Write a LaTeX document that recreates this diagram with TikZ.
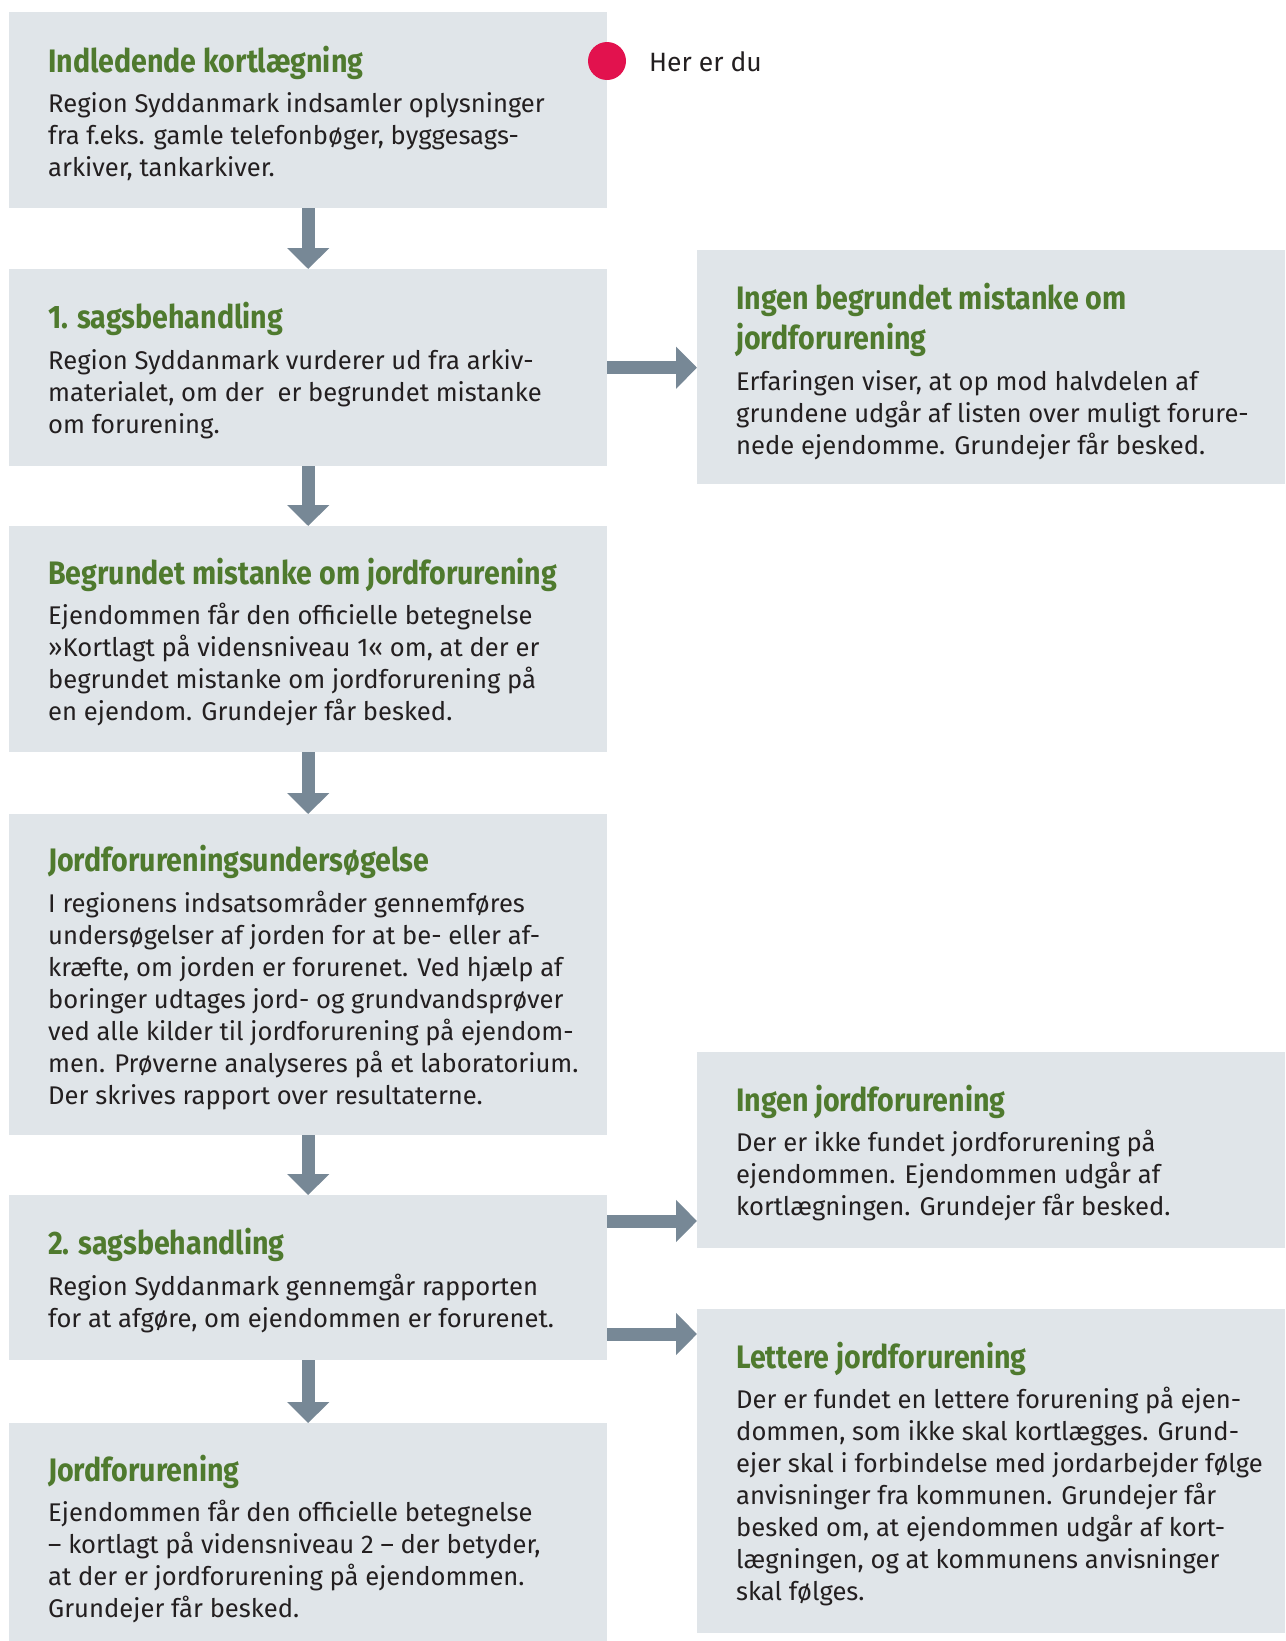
\documentclass[tikz,border=0pt]{standalone}
\usepackage{fontspec}
\setmainfont{Fira Sans}
\newfontfamily\titlefont{Fira Sans}[FakeStretch=0.88]
\usetikzlibrary{arrows.meta,calc}
\definecolor{boxfill}{HTML}{E0E5E9}
\definecolor{arrowcol}{HTML}{778896}
\definecolor{titlegreen}{HTML}{4F7A2E}
\definecolor{dotred}{HTML}{E2124E}
\definecolor{textcol}{HTML}{231F20}
\newcommand\ttl[1]{{\titlefont\bfseries\fontsize{32.5}{40}\selectfont\color{titlegreen}#1}}
\begin{document}
\begin{tikzpicture}[x=1pt,y=-1pt,
  box/.style={fill=boxfill,rectangle,inner sep=0pt,anchor=north west},
  lbox/.style={box,minimum width=598pt},
  rbox/.style={box,minimum width=588pt},
  txt/.style={anchor=west,align=left,inner sep=0pt,text=textcol,font=\fontsize{25.6}{32}\selectfont},
  arr/.style={draw=arrowcol,line width=13pt,-{Triangle[width=41pt,length=21pt]}},
]
\useasboundingbox (0,0) rectangle (1285,1641);
% left boxes
\node[lbox,minimum height=196pt] (b1) at (9,12) {};
\node[lbox,minimum height=197pt] (b2) at (9,269) {};
\node[lbox,minimum height=226pt] (b3) at (9,526) {};
\node[lbox,minimum height=321pt] (b4) at (9,814) {};
\node[lbox,minimum height=165pt] (b5) at (9,1195) {};
\node[lbox,minimum height=218pt] (b6) at (9,1423) {};
% right boxes
\node[rbox,minimum height=234pt] (r1) at (697,250) {};
\node[rbox,minimum height=196pt] (r2) at (697,1052) {};
\node[rbox,minimum height=324pt] (r3) at (697,1309) {};
% texts
\node[txt] (b1t) at ([xshift=39pt,yshift=-3pt]b1.west) {\ttl{Indledende kortlægning}\\[8.5pt]
Region Syddanmark indsamler oplysninger\\
fra f.eks. gamle telefonbøger, byggesags-\\
arkiver, tankarkiver.};
\node[txt] (b2t) at ([xshift=39pt,yshift=-3pt]b2.west) {\ttl{1. sagsbehandling}\\[8.5pt]
Region Syddanmark vurderer ud fra arkiv-\\
materialet, om der\ \ er begrundet mistanke\\
om forurening.};
\node[txt] (b3t) at ([xshift=39pt,yshift=-3pt]b3.west) {\ttl{Begrundet mistanke om jordforurening}\\[8.5pt]
Ejendommen får den officielle betegnelse\\
»Kortlagt på vidensniveau 1« om, at der er\\
begrundet mistanke om jordforurening på\\
en ejendom. Grundejer får besked.};
\node[txt] (b4t) at ([xshift=39pt,yshift=-3pt]b4.west) {\ttl{Jordforureningsundersøgelse}\\[8.5pt]
I regionens indsatsområder gennemføres\\
undersøgelser af jorden for at be- eller af-\\
kræfte, om jorden er forurenet. Ved hjælp af\\
boringer udtages jord- og grundvandsprøver\\
ved alle kilder til jordforurening på ejendom-\\
men. Prøverne analyseres på et laboratorium.\\
Der skrives rapport over resultaterne.};
\node[txt] (b5t) at ([xshift=39pt,yshift=-3pt]b5.west) {\ttl{2. sagsbehandling}\\[8.5pt]
Region Syddanmark gennemgår rapporten\\
for at afgøre, om ejendommen er forurenet.};
\node[txt] (b6t) at ([xshift=39pt,yshift=-7pt]b6.west) {\ttl{Jordforurening}\\[8.5pt]
Ejendommen får den officielle betegnelse\\
– kortlagt på vidensniveau 2 – der betyder,\\
at der er jordforurening på ejendommen.\\
Grundejer får besked.};
\node[txt] (r1t) at ([xshift=39pt,yshift=-4pt]r1.west) {\ttl{Ingen begrundet mistanke om}\\[6pt]
\ttl{jordforurening}\\[8.5pt]
Erfaringen viser, at op mod halvdelen af\\
grundene udgår af listen over muligt forure-\\
nede ejendomme. Grundejer får besked.};
\node[txt] (r2t) at ([xshift=39pt,yshift=-3pt]r2.west) {\ttl{Ingen jordforurening}\\[8.5pt]
Der er ikke fundet jordforurening på\\
ejendommen. Ejendommen udgår af\\
kortlægningen. Grundejer får besked.};
\node[txt] (r3t) at ([xshift=39pt,yshift=-3pt]r3.west) {\ttl{Lettere jordforurening}\\[8.5pt]
Der er fundet en lettere forurening på ejen-\\
dommen, som ikke skal kortlægges. Grund-\\
ejer skal i forbindelse med jordarbejder følge\\
anvisninger fra kommunen. Grundejer får\\
besked om, at ejendommen udgår af kort-\\
lægningen, og at kommunens anvisninger\\
skal følges.};
% marker
\node[circle,fill=dotred,minimum size=38pt,inner sep=0pt] (dot) at (607,61) {};
\node[txt,font=\fontsize{26.5}{32}\selectfont] (here) at (649,62) {Her er du};
% arrows
\draw[arr] (b1.south) -- (b2.north);
\draw[arr] (b2.south) -- (b3.north);
\draw[arr] (b3.south) -- (b4.north);
\draw[arr] (b4.south) -- (b5.north);
\draw[arr] (b5.south) -- (b6.north);
\draw[arr] (b2.east) -- (b2.east -| r1.west);
\coordinate (a1) at ([yshift=-26pt]b5.north east);
\coordinate (a2) at ([yshift=-139pt]b5.north east);
\draw[arr] (a1) -- (a1 -| r2.west);
\draw[arr] (a2) -- (a2 -| r3.west);
\end{tikzpicture}
\end{document}
